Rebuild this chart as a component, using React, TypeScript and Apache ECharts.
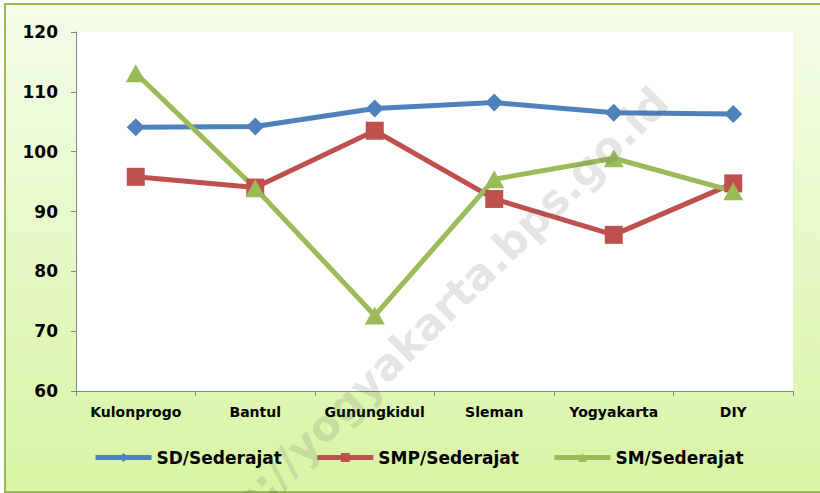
import React, { useEffect, useRef } from "react";
import * as echarts from "echarts";

const categories = ["Kulonprogo", "Bantul", "Gunungkidul", "Sleman", "Yogyakarta", "DIY"];
const sdValues = [104.1, 104.2, 107.2, 108.2, 106.5, 106.3];
const smpValues = [95.8, 94.0, 103.5, 92.1, 86.1, 94.7];
const smValues = [113.1, 93.9, 72.6, 95.4, 98.9, 93.4];
const seriesNames = ["SD/Sederajat", "SMP/Sederajat", "SM/Sederajat"];
const watermark = "http://yogyakarta.bps.go.id";

const FONT = "'DejaVu Sans', Verdana, sans-serif";

export default function App() {
  const ref = useRef<HTMLDivElement>(null);
  useEffect(() => {
    if (!ref.current) return;
    const chart = echarts.init(ref.current, undefined, { renderer: "svg" });
    const mk = (name: string, data: number[], color: string, symbol: string, size: number | number[]) => ({
      name,
      type: "line",
      data,
      symbol,
      symbolSize: size,
      showSymbol: true,
      itemStyle: { color },
      lineStyle: { color, width: 5 },
      emphasis: { disabled: true },
    });
    chart.setOption({
      animation: false,
      backgroundColor: "transparent",
      textStyle: { fontFamily: FONT },
      grid: {
        left: 76,
        top: 32,
        right: 27,
        bottom: 102,
        show: true,
        backgroundColor: "#ffffff",
        borderWidth: 0,
        containLabel: false,
      },
      legend: {
        left: 93,
        top: 449,
        padding: 0,
        itemWidth: 56,
        itemHeight: 11,
        itemGap: 33,
        lineStyle: { width: 5 },
        textStyle: { fontFamily: FONT, fontWeight: "bold", fontSize: 17, color: "#000" },
        data: seriesNames,
      },
      xAxis: {
        type: "category",
        data: categories,
        boundaryGap: true,
        axisLine: { lineStyle: { color: "#868686", width: 1 } },
        axisTick: { show: true, alignWithLabel: false, length: 5, lineStyle: { color: "#868686" } },
        axisLabel: { color: "#000", fontFamily: FONT, fontWeight: "bold", fontSize: 14, margin: 14, interval: 0 },
        splitLine: { show: false },
      },
      yAxis: {
        type: "value",
        min: 60,
        max: 120,
        interval: 10,
        axisLine: { show: true, lineStyle: { color: "#868686", width: 1 } },
        axisTick: { show: true, length: 5, lineStyle: { color: "#868686" } },
        axisLabel: { color: "#000", fontFamily: FONT, fontWeight: "bold", fontSize: 17, margin: 18 },
        splitLine: { show: false },
      },
      graphic: [
        {
          type: "text",
          x: 676,
          y: 110,
          rotation: (44.5 * Math.PI) / 180,
          z: 100,
          silent: true,
          style: {
            text: watermark,
            font: "bold 43px " + FONT,
            fill: "rgba(90,90,90,0.17)",
            textAlign: "right",
            textVerticalAlign: "bottom",
          },
        },
      ],
      series: [
        mk(seriesNames[0], sdValues, "#4F81BD", "diamond", 18),
        mk(seriesNames[1], smpValues, "#C0504D", "rect", 18),
        mk(seriesNames[2], smValues, "#9BBB59", "triangle", [20, 18]),
      ],
    });
    return () => chart.dispose();
  }, []);
  return (
    <div style={{ position: "fixed", left: 0, top: 0, width: 820, height: 493, overflow: "hidden", background: "#fff" }}>
      <div
        style={{
          position: "absolute",
          left: 4,
          top: 3,
          width: 830,
          height: 490,
          boxSizing: "border-box",
          border: "2px solid #9BBB59",
          background: "linear-gradient(to bottom, #F4FDE8 0%, #D8F5A5 100%)",
        }}
      />
      <div ref={ref} style={{ position: "absolute", left: 0, top: 0, width: 820, height: 493 }} />
    </div>
  );
}
